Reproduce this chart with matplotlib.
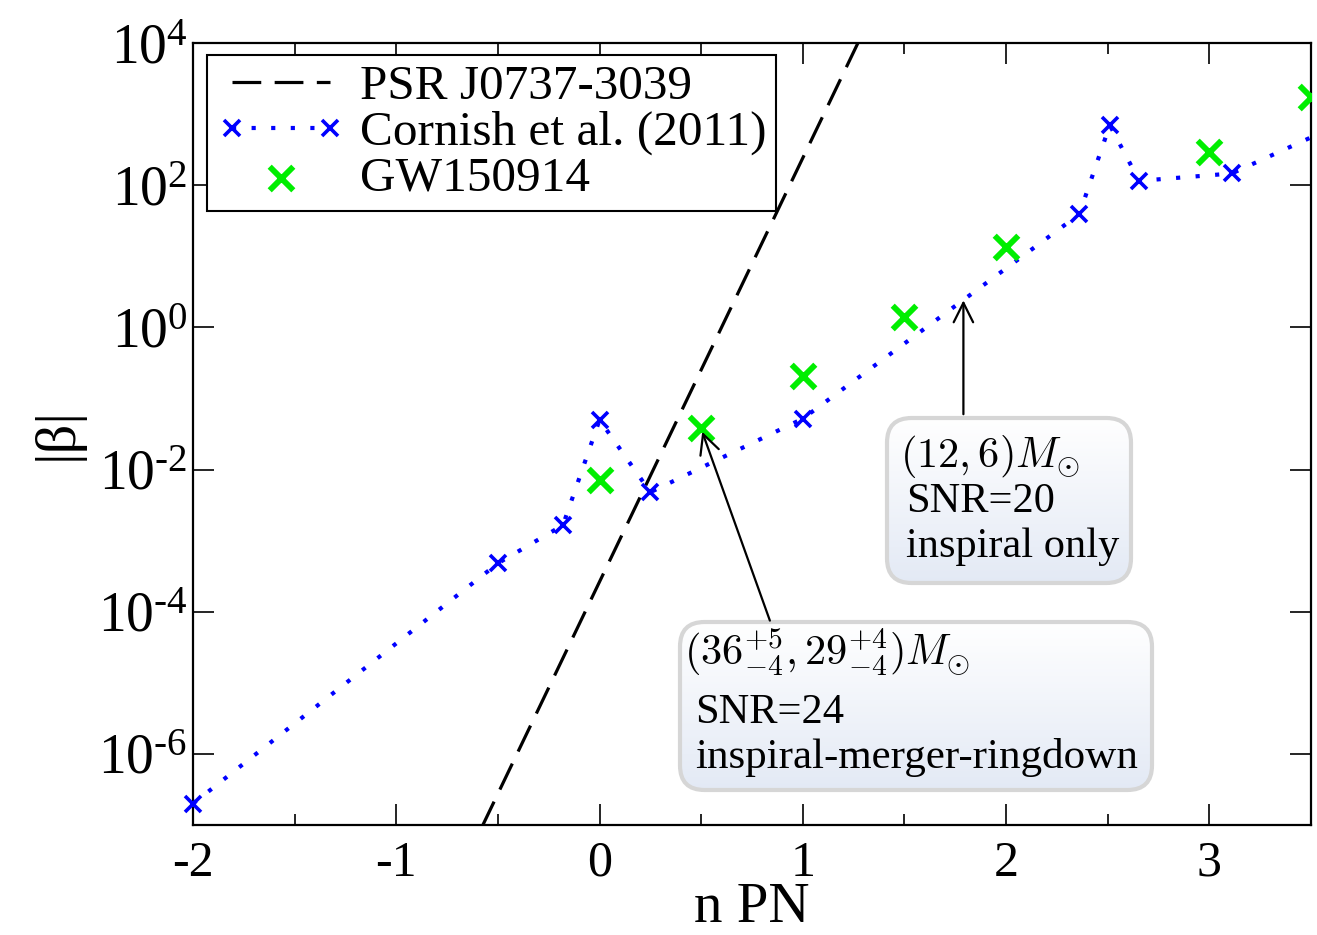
import numpy as np
import matplotlib
matplotlib.use("Agg")
import matplotlib.pyplot as plt
from matplotlib.ticker import FixedLocator, MultipleLocator, NullLocator, FixedFormatter
from matplotlib.patches import FancyBboxPatch

plt.rcParams['font.family'] = ['Liberation Serif', 'DejaVu Serif']
plt.rcParams['mathtext.fontset'] = 'stix'

# ---------------- data ----------------
psr_x = [-0.58, 1.28]
psr_y = [9.2e-8, 1.13e4]

cornish_x = [-2.0, -0.5, -0.18, 0.0, 0.25, 1.0, 2.36, 2.51, 2.655, 3.11, 3.5]
cornish_y = [2.0e-7, 4.8e-4, 1.65e-3, 5.0e-2, 4.8e-3, 5.2e-2, 39.0, 700.0, 115.0, 146.0, 470.0]

gw_x = [0.0, 0.5, 1.0, 1.5, 2.0, 3.0, 3.5]
gw_y = [7.2e-3, 3.8e-2, 0.21, 1.38, 13.5, 290.0, 1720.0]

xticks = [-2, -1, 0, 1, 2, 3]
xtick_labels = ['-2', '-1', '0', '1', '2', '3']
yticks = [1e-6, 1e-4, 1e-2, 1e0, 1e2, 1e4]
ytick_labels = ['$\\mathregular{10^{\u20106}}$', '$\\mathregular{10^{\u20104}}$',
                '$\\mathregular{10^{\u20102}}$', r'$\mathregular{10^{0}}$',
                r'$\mathregular{10^{2}}$', r'$\mathregular{10^{4}}$']

# ---------------- figure ----------------
W, H = 1317, 935
fig = plt.figure(figsize=(W / 100, H / 100), dpi=100)
L, R, T, B = 193, 1311, 43, 825
ax = fig.add_axes([L / W, (H - B) / H, (R - L) / W, (B - T) / H])

def px(x, y):
    return ((x - L) / (R - L), (B - y) / (B - T))

ax.set_yscale('log')
ax.set_xlim(-2, 3.5)
ax.set_ylim(1e-7, 1e4)

ax.plot(psr_x, psr_y, color='black', lw=2.3, linestyle=(0, (9, 4.2)),
        dash_capstyle='butt', label='PSR J0737-3039', zorder=3)
ax.plot(cornish_x, cornish_y, color='#0000ff', lw=3.0, linestyle=(0, (1, 3.7)),
        marker='x', markersize=11.5, markeredgewidth=2.6,
        markevery=list(range(len(cornish_x) - 1)), clip_on=False,
        label='Cornish et al. (2011)', zorder=4)
ax.scatter(gw_x, gw_y, marker='x', s=17 ** 2, linewidths=4.2, color='#00ee00',
           label='GW150914', zorder=5)

for s in ax.spines.values():
    s.set_linewidth(1.6)

ax.xaxis.set_major_locator(FixedLocator(xticks))
ax.xaxis.set_major_formatter(FixedFormatter(xtick_labels))
ax.xaxis.set_minor_locator(MultipleLocator(0.5))
ax.yaxis.set_major_locator(FixedLocator(yticks))
ax.yaxis.set_major_formatter(FixedFormatter(ytick_labels))
ax.yaxis.set_minor_locator(NullLocator())
ax.tick_params(which='both', direction='in', top=True, right=True, width=1.2)
ax.tick_params(which='major', length=15)
ax.tick_params(which='minor', length=8)
ax.tick_params(axis='x', which='major', labelsize=36, pad=11)
ax.tick_params(axis='y', which='major', labelsize=40, pad=4)

ax.set_xlabel('n PN', fontsize=41)
ax.xaxis.label.set_va('baseline')
ax.xaxis.set_label_coords(0.5, (B - 922) / (B - T))
ax.set_ylabel('|β|', fontsize=42, labelpad=10)

leg = ax.legend(loc='upper left', bbox_to_anchor=px(207, 55), borderaxespad=0,
                fontsize=35.5, frameon=True, fancybox=False, edgecolor='black',
                framealpha=1, handlelength=2.6, handletextpad=0.3, labelspacing=0.02,
                borderpad=0.2, numpoints=2, scatterpoints=1)
leg.get_frame().set_linewidth(1.5)

# ---------------- annotation boxes ----------------
grad = np.linspace(0, 1, 256).reshape(-1, 1)
top_c = np.array([1.0, 1.0, 1.0])
bot_c = np.array([0.89, 0.915, 0.96])
img = top_c[None, None, :] * (1 - grad[..., None]) + bot_c[None, None, :] * grad[..., None]

def make_box(x0, y0, x1, y1):
    (ax0, ay0) = px(x0, y1)
    (ax1, ay1) = px(x1, y0)
    patch = FancyBboxPatch((ax0, ay0), ax1 - ax0, ay1 - ay0,
                           boxstyle='round,pad=0,rounding_size=0.022',
                           mutation_aspect=(R - L) / (B - T),
                           transform=ax.transAxes, facecolor='none',
                           edgecolor='#d6d6d6', linewidth=3.0, zorder=7, clip_on=False)
    ax.add_patch(patch)
    im = ax.imshow(img, extent=(ax0, ax1, ay0, ay1), transform=ax.transAxes,
                   aspect='auto', zorder=6, interpolation='bilinear', origin='upper')
    im.set_clip_path(patch)

make_box(887, 418, 1131, 583)
make_box(680, 622, 1152, 790)

tkw = dict(transform=ax.transAxes, fontsize=30.5, zorder=8, va='baseline', ha='left')
ax.text(*px(900, 467), r'$(12, 6)M_{\odot}$', math_fontfamily='cm', **tkw)
ax.text(*px(906, 512), 'SNR=20', **tkw)
ax.text(*px(906, 557), 'inspiral only', **tkw)
ax.text(*px(684, 665), r'$(36^{+5}_{-4}, 29^{+4}_{-4})M_{\odot}$', math_fontfamily='cm', **tkw)
ax.text(*px(695, 723), 'SNR=24', **tkw)
tkw2 = dict(tkw, fontsize=31)
ax.text(*px(695, 768), 'inspiral-merger-ringdown', **tkw2)

# arrows
akw = dict(arrowstyle='->,head_length=0.7,head_width=0.35', lw=1.6, color='black',
           shrinkA=0, shrinkB=0, mutation_scale=20)
ax.annotate('', xy=(1.79, 2.4), xytext=(1.79, 0.06), arrowprops=akw, zorder=9)
ax.annotate('', xy=(0.505, 3.4e-2), xytext=(0.838, 7.5e-5), arrowprops=akw, zorder=9)

fig.savefig('out.png', dpi=100)
